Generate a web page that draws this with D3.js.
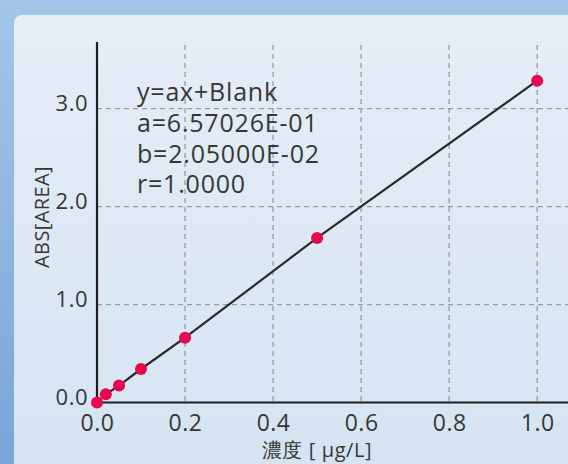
<!DOCTYPE html>
<html>
<head>
<meta charset="utf-8">
<script src="https://cdn.jsdelivr.net/npm/d3@7"></script>
<style>
	body { margin: 0; background: #9fc3e6; }
	svg { display: block; }
	text { font-family: "Open Sans", "Noto Sans", sans-serif; fill: #363636; }
</style>
</head>
<body>
<svg id="calib" width="568" height="464"></svg>
<script>
// calibration points
var conc = [0, 0.02, 0.05, 0.1, 0.2, 0.5, 1.0];
var abs = [0, 0.084, 0.173, 0.342, 0.662, 1.68, 3.285];
var xTicks = [0, 0.2, 0.4, 0.6, 0.8, 1.0];
var yTicks = [0, 1, 2, 3];
var eqLines = ["y=ax+Blank", "a=6.57026E-01", "b=2.05000E-02", "r=1.0000"];
var xTitle = "濃度 [ μg/L]",
	yTitle = "ABS[AREA]";

var data = conc.map(function(c, i) { return {x: c, y: abs[i]}; });

var svg = d3.select("svg#calib"),
	width = +svg.attr("width"),
	height = +svg.attr("height"),
	margin = {top: 42, right: 0, bottom: 61.5, left: 97};

var defs = svg.append("defs");
var bg = defs.append("linearGradient").attr("id", "bg").attr("x1", 0).attr("y1", 0).attr("x2", 0).attr("y2", 1);
bg.append("stop").attr("offset", 0).attr("stop-color", "#a3c6e8");
bg.append("stop").attr("offset", 1).attr("stop-color", "#78a6d8");
var panel = defs.append("linearGradient").attr("id", "panel").attr("x1", 0).attr("y1", 0).attr("x2", 0).attr("y2", 1);
panel.append("stop").attr("offset", 0).attr("stop-color", "#e6eef7");
panel.append("stop").attr("offset", 1).attr("stop-color", "#d5e3f2");

svg.append("rect").attr("width", width).attr("height", height).attr("fill", "url(#bg)");
svg.append("rect")
	.attr("x", 14).attr("y", 15)
	.attr("width", width).attr("height", height)
	.attr("rx", 8)
	.attr("fill", "url(#panel)");

var x = d3.scaleLinear().domain([0, 1.07]).range([margin.left, width - margin.right]),
	y = d3.scaleLinear().domain([0, 3.68]).range([height - margin.bottom, margin.top]);

// grid
svg.append("g").selectAll("line.v")
	.data(xTicks.slice(1))
	.enter().append("line")
	.attr("x1", d => x(d)).attr("x2", d => x(d))
	.attr("y1", margin.top + 3).attr("y2", y(0))
	.attr("stroke", "#9b9b9b").attr("stroke-width", 1.3)
	.attr("stroke-dasharray", "5,4");

svg.append("g").selectAll("line.h")
	.data(yTicks.slice(1))
	.enter().append("line")
	.attr("x1", x(0)).attr("x2", width)
	.attr("y1", d => y(d)).attr("y2", d => y(d))
	.attr("stroke", "#9b9b9b").attr("stroke-width", 1.3)
	.attr("stroke-dasharray", "5,4");

// axes
var xAxis = svg.append("g")
	.attr("transform", "translate(0," + y(0) + ")")
	.call(d3.axisBottom(x).tickValues(xTicks).tickFormat(d3.format(".1f")).tickSize(0));
xAxis.select(".domain").remove();
xAxis.selectAll("text")
	.attr("y", 28).attr("dy", 0)
	.style("font-size", "23px")
	.style("letter-spacing", "0.5px")
	.attr("fill", "#363636");

var yAxis = svg.append("g")
	.attr("transform", "translate(" + x(0) + ",0)")
	.call(d3.axisLeft(y).tickValues(yTicks).tickFormat(d3.format(".1f")).tickSize(0));
yAxis.select(".domain").remove();
yAxis.selectAll("text")
	.attr("x", -9).attr("dy", 2)
	.style("font-size", "22px")
	.style("letter-spacing", "0.5px")
	.attr("fill", "#363636");

svg.append("line")
	.attr("x1", x(0)).attr("x2", x(0))
	.attr("y1", margin.top).attr("y2", y(0) + 1)
	.attr("stroke", "#1e1e1e").attr("stroke-width", 2.2);
svg.append("line")
	.attr("x1", x(0) - 1).attr("x2", width)
	.attr("y1", y(0)).attr("y2", y(0))
	.attr("stroke", "#1e1e1e").attr("stroke-width", 2.2);

// titles
svg.append("text")
	.attr("x", 317).attr("y", 457)
	.attr("text-anchor", "middle")
	.style("font-size", "20px")
	.style("letter-spacing", "0.6px")
	.text(xTitle);

svg.append("text")
	.attr("transform", "translate(49,217) rotate(-90)")
	.attr("text-anchor", "middle")
	.style("font-size", "20px")
	.style("letter-spacing", "0.4px")
	.text(yTitle);

// equation box
svg.append("g").selectAll("text")
	.data(eqLines)
	.enter().append("text")
	.attr("x", 137)
	.attr("y", (d, i) => 101 + i * 30.8)
	.style("font-size", "25px")
	.style("letter-spacing", "0.8px")
	.text(d => d);

// fit line + points
var line = d3.line()
	.x(d => x(d.x))
	.y(d => y(d.y));

svg.append("path")
	.datum(data)
	.attr("fill", "none")
	.attr("stroke", "#2a2a2a")
	.attr("stroke-width", 2.2)
	.attr("d", line);

svg.append("g").selectAll("circle")
	.data(data)
	.enter().append("circle")
	.attr("cx", d => x(d.x))
	.attr("cy", d => y(d.y))
	.attr("r", 6)
	.attr("fill", "#e8084f");
</script>
</body>
</html>
